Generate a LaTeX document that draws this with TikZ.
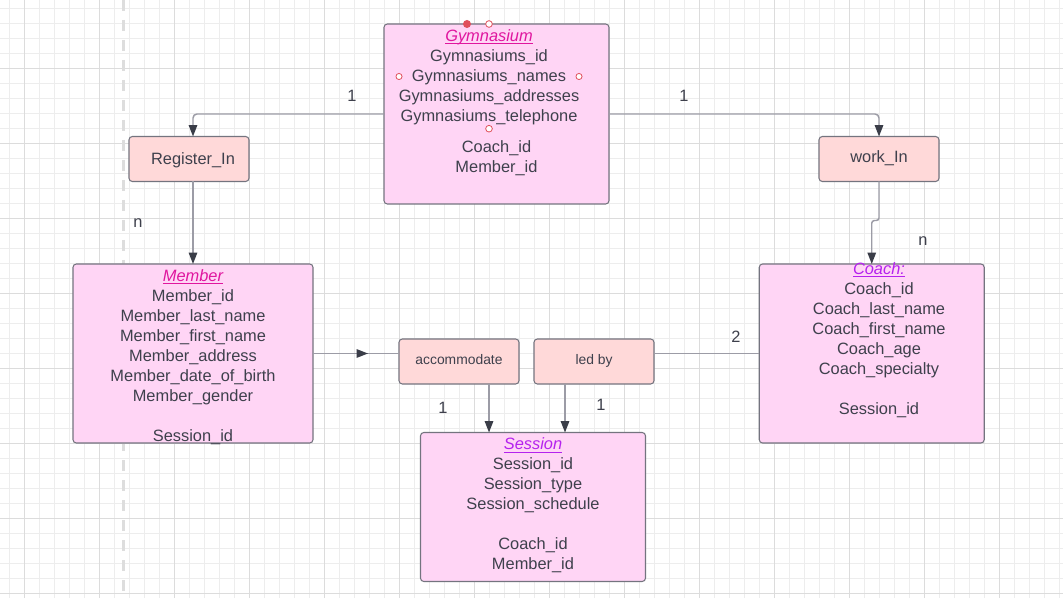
\documentclass[tikz,border=0pt]{standalone}
\usepackage{fontspec}
\setmainfont{Liberation Sans}
\usetikzlibrary{arrows.meta,calc}
\definecolor{gridminor}{HTML}{EDEDED}
\definecolor{gridmajor}{HTML}{DCDCDC}
\definecolor{dashcol}{HTML}{DDDDDD}
\definecolor{entfill}{HTML}{FFD5F5}
\definecolor{relfill}{HTML}{FFD9D9}
\definecolor{boxline}{HTML}{74747F}
\definecolor{txtcol}{HTML}{3E404C}
\definecolor{conncol}{HTML}{9C9CA6}
\definecolor{tipcol}{HTML}{3A3D48}
\definecolor{titlemag}{HTML}{E0169F}
\definecolor{titlepur}{HTML}{B522EE}
\definecolor{ptred}{HTML}{E0505C}
\newcommand\myul[1]{\setbox0\hbox{#1}\rlap{\rule[-1.9pt]{\wd0}{0.7pt}}#1}
\begin{document}
\begin{tikzpicture}[x=0.75pt,y=-0.75pt,
  every node/.style={inner sep=0pt, outer sep=0pt},
  entity/.style={draw=boxline, fill=entfill, line width=0.8pt, rounded corners=2.5pt},
  relbox/.style={draw=boxline, fill=relfill, line width=0.8pt, rounded corners=2.5pt, minimum width=90pt, minimum height=33.75pt},
  field/.style={anchor=base, text=txtcol, font=\fontsize{12.3}{15}\selectfont},
  smallfield/.style={anchor=base, text=txtcol, font=\fontsize{10.4}{13}\selectfont},
  etitle/.style={anchor=base, font=\fontsize{12.3}{15}\selectfont\itshape},
  conn/.style={draw=conncol, line width=1.1pt},
  arr/.style={-{Triangle[length=8.5pt,width=6.3pt,color=tipcol]}},
  fillpt/.style={circle, fill=ptred, minimum size=6pt},
  openpt/.style={circle, draw=ptred, fill=white, line width=0.6pt, minimum size=5pt},
  minorgrid/.style={draw=gridminor, line width=0.75pt},
  majorgrid/.style={draw=gridmajor, line width=1pt}
]
\useasboundingbox (0,0) rectangle (1063,598);
\fill[white] (0,0) rectangle (1063,598);
% grid
\foreach \i in {0,...,70} \draw[minorgrid] (9.5+15*\i,0) -- (9.5+15*\i,598);
\foreach \i in {0,...,39} \draw[minorgrid] (0,8.3+15*\i) -- (1063,8.3+15*\i);
\foreach \i in {0,...,14} \draw[majorgrid] (24.5+75*\i,0) -- (24.5+75*\i,598);
\foreach \i in {1,...,8} \draw[majorgrid] (0,-6.7+75*\i) -- (1063,-6.7+75*\i);
% dashed separator
\draw[dashcol, line width=2.4pt, dash pattern=on 8pt off 7pt] (123.3,0) -- (123.3,598);

% entity boxes
\node[entity, minimum width=168.75pt, minimum height=135pt] (gym) at (496.5,114) {};
\node[entity, minimum width=180pt, minimum height=134.25pt] (member) at (193,353.5) {};
\node[entity, minimum width=168.75pt, minimum height=134.25pt] (coach) at (871.75,353.5) {};
\node[entity, minimum width=168.75pt, minimum height=111.75pt] (session) at (533,507) {};

% relationship boxes
\node[relbox] (reg) at (189,159) {};
\node[relbox] (work) at (879,159) {};
\node[relbox] (acc) at (459,361.5) {};
\node[relbox] (led) at (594,361.5) {};

% Gymnasium text
\node[etitle, text=titlemag] (gymt) at (489,41.6) {\myul{Gymnasium}};
\foreach \t [count=\i from 0] in {Gymnasiums\_id,Gymnasiums\_names,Gymnasiums\_addresses,Gymnasiums\_telephone}
  \node[field] (gf\i) at (489,61.7+20.1*\i) {\t};
\node[field] (gf4) at (496.5,152.7) {Coach\_id};
\node[field] (gf5) at (496.5,172.7) {Member\_id};
% connection points
\node[fillpt] (p1) at (467,24) {};
\node[openpt] (p2) at (489,24) {};
\node[openpt, minimum size=4.6pt] (p3) at (399,76.5) {};
\node[openpt, minimum size=4.6pt] (p4) at (579,76.5) {};
\node[openpt] (p5) at (489,128.7) {};

% Member text
\node[etitle, text=titlemag] (memt) at (193,281.6) {\myul{Member}};
\foreach \t [count=\i from 0] in {Member\_id,Member\_last\_name,Member\_first\_name,Member\_address,Member\_date\_of\_birth,Member\_gender}
  \node[field] (mf\i) at (193,301.6+20*\i) {\t};
\node[field] (mf6) at (193,441.6) {Session\_id};

% Coach text
\node[etitle, text=titlepur] (coat) at (879,274.9) {\myul{Coach:}};
\foreach \t [count=\i from 0] in {Coach\_id,Coach\_last\_name,Coach\_first\_name,Coach\_age,Coach\_specialty}
  \node[field] (cf\i) at (879,294.9+20*\i) {\t};
\node[field] (cf5) at (879,414.9) {Session\_id};

% Session text
\node[etitle, text=titlepur] (sest) at (533,449.9) {\myul{Session}};
\foreach \t [count=\i from 0] in {Session\_id,Session\_type,Session\_schedule}
  \node[field] (sf\i) at (533,469.9+20*\i) {\t};
\node[field] (sf3) at (533,549.9) {Coach\_id};
\node[field] (sf4) at (533,569.9) {Member\_id};

% relationship texts
\node[field] (regt) at (193,164.2) {Register\_In};
\node[field] (workt) at (879,162.6) {work\_In};
\node[smallfield] (acct) at (459,364.8) {accommodate};
\node[smallfield] (ledt) at (594,364.8) {led by};

% connectors
\coordinate (regin) at ($(reg.north)+(4,0)$);
\coordinate (regout) at ($(reg.south)+(4,0)$);
\coordinate (accout) at ($(acc.south)+(30,0)$);
\coordinate (ledout) at ($(led.south)+(-29,0)$);
\coordinate (workbend) at ($(work.south)+(0,39)$);
\coordinate (arrmid) at ($(member.east)+(55,0)$);

\draw[conn,arr,rounded corners=3pt] (gym.west) -| (regin);
\draw[conn,arr,rounded corners=3pt] (gym.east) -| (work.north);
\draw[conn,arr] (regout) -- (member.north);
\draw[conn,arr,rounded corners=2pt] (work.south) -- (workbend) -| (coach.north);
\draw[conn] (member.east) -- (acc.west |- member.east);
\draw[conn,arr] (member.east) -- (arrmid);
\draw[conn,arr] (accout) -- (accout |- session.north);
\draw[conn,arr] (ledout) -- (ledout |- session.north);
\draw[conn] (coach.west) -- (led.east |- coach.west);

% cardinality labels
\node[field] (l1) at (352,101.9) {1};
\node[field] (l2) at (684,101.9) {1};
\node[field] (l3) at (138,227.5) {n};
\node[field] (l4) at (923,246) {n};
\node[field] (l5) at (443,413.9) {1};
\node[field] (l6) at (601,410.9) {1};
\node[field] (l7) at (736,342.9) {2};
\end{tikzpicture}
\end{document}
